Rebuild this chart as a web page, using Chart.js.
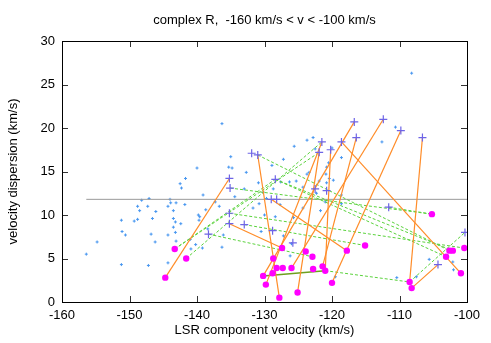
<!DOCTYPE html>
<html>
<head>
<meta charset="utf-8">
<script src="https://cdn.jsdelivr.net/npm/chart.js@4.4.1/dist/chart.umd.min.js"></script>
<style>
  body { margin: 0; background: #fff; }
  #wrap { width: 491px; height: 343px; }
</style>
</head>
<body>
<div id="wrap"><canvas id="chart" width="491" height="343"></canvas></div>
<script>
// ======= data =======
const chartTitle = 'complex R,  -160 km/s < v < -100 km/s';

// field points (small blue crosses)
const dotV = [-156.4,-154.8,-151.2,-151.1,-150.6,-151.2,-149.3,-148.8,-148.8,-148.5,-148.2,-147.3,-147.1,-146.6,-146.1,-146.8,-146.2,-147.2,
  -144.3,-144.0,-143.9,-143.5,-143.1,-143.5,-143.2,-143.5,-143.2,-144.3,-143.1,-144.3,-142.4,-141.8,-142.5,-142.3,-141.7,-140.0,
  -139.8,-139.7,-141.0,-140.2,-140.9,-139.1,-138.7,-139.6,-138.4,-139.2,-137.3,-136.7,-136.1,-136.3,-134.4,-135.0,-135.3,-134.8,
  -132.7,-133.0,-131.7,-130.9,-130.8,-130.2,-130.0,-130.5,-129.7,-128.9,-136.3,-128.7,-127.6,-126.3,-125.6,-127.2,-127.7,
  -123.7,-122.8,-122.5,-120.0,-118.6,-120.5,-123.4,-123.7,-120.8,-120.9,-125.3,-120.4,-112.6,-124.3,-121.9,-119.8,-122.3,-118.6,
  -121.0,-108.2,-110.6,-121.7,-124.3,-125.7,-126.0,-119.5,-110.4,-107.5,-105.6,-102.1,-102.0,-120.8,-118.6,-128.4,-127.2,-126.2];
const dotD = [5.5,6.9,9.4,8.1,7.7,4.3,9.3,9.5,11.0,10.5,11.7,11.0,11.9,9.6,10.4,7.8,6.9,4.2,
  11.0,11.8,11.4,10.5,11.4,9.6,9.2,8.6,8.0,7.7,7.0,4.5,9.0,11.2,13.6,13.1,14.2,15.4,
  10.0,9.4,7.2,6.6,6.1,12.3,10.6,9.8,8.4,6.2,11.5,11.0,7.7,6.3,12.1,16.7,15.5,15.4,
  14.9,13.0,10.8,13.7,11.3,12.6,10.0,8.1,11.9,15.7,20.5,13.0,13.8,13.8,17.9,16.4,11.2,
  18.6,18.9,17.6,17.7,16.6,16.0,14.9,14.7,15.5,14.7,13.9,14.2,18.4,13.2,13.9,14.0,12.5,12.3,
  11.5,26.3,20.1,10.5,10.8,9.7,6.7,2.9,2.8,2.9,4.9,4.6,3.7,13.7,11.3,9.8,7.6,5.3];

// clump positions (purple plus)
const plusV = [-131.9,-131.0,-135.2,-135.1,-128.4,-129.0,-128.2,-135.2,-135.2,-133.0,-128.8,-138.3,-116.7,-112.4,
  -121.5,-118.6,-116.4,-121.9,-120.2,-109.8,-106.6,-111.6,-100.3,-104.3,-125.8,-120.8,-122.5];
const plusD = [17.1,16.9,14.2,13.1,14.1,11.8,11.8,10.2,9.0,8.9,8.2,7.8,20.7,21.0,
  18.4,18.4,18.9,17.2,17.5,19.7,18.9,10.9,8.0,4.3,6.8,12.8,13.0];

// fitted components (magenta dots)
const dotsV = [-144.7,-143.3,-141.6,-127.4,-128.7,-128.2,-127.3,-126.0,-128.8,-130.2,-129.8,-127.8,-115.1,-117.8,
  -123.9,-122.9,-121.4,-122.8,-121.0,-120.0,-125.1,-105.2,-102.6,-102.1,-100.4,-103.1,-100.9,-108.5,-108.2];
const dotsD = [2.8,6.1,5.0,6.2,5.0,3.9,3.9,3.9,3.3,3.0,2.0,0.5,6.5,5.9,
  5.8,5.2,4.1,3.8,3.6,2.2,1.1,10.1,5.9,5.9,6.2,5.2,3.3,2.3,1.6];

// links: P = plus number, C = dot number (1-based)
const orangeLinks = [['P3','C1'],['P2','C12'],['P9','C4'],['P6','C14'],['P13','C10'],['P14','C8'],['P17','C17'],
  ['P15','C11'],['P18','C21'],['P19','C19'],['P16','C27'],['P20','C20'],['P21','C28'],['P24','C29']];
const greenLinks = [['C2','P18'],['C3','P15'],['C2','P5'],['P2','C23'],['P4','C22'],['P5','C24'],['P5','C26'],
  ['P8','C25'],['P10','C13'],['P12','C16'],['C19','C28'],['C28','P23'],['P22','C22']];
const oliveLinks = [['C10','C19']];

const meanDisp = 11.8;
const meanFrom = -156.4;
const meanTo = -100;

// ======= helpers =======
function pt(ref) {
  const i = parseInt(ref.slice(1), 10) - 1;
  return ref[0] === 'P' ? { x: plusV[i], y: plusD[i] } : { x: dotsV[i], y: dotsD[i] };
}
function segs(links, color, dash, width, order) {
  return links.map(l => ({
    data: [pt(l[0]), pt(l[1])],
    showLine: true,
    borderColor: color,
    borderWidth: width,
    borderDash: dash,
    pointRadius: 0,
    order: order
  }));
}

const datasets = [];
datasets.push({
  data: dotV.map((v, i) => ({ x: v, y: dotD[i] })),
  pointStyle: 'cross', pointRadius: 1.5, borderColor: 'rgb(70,150,240)', borderWidth: 1, order: 9
});
datasets.push({
  data: [{ x: meanFrom, y: meanDisp }, { x: meanTo, y: meanDisp }],
  showLine: true, borderColor: '#999', borderWidth: 1, pointRadius: 0, order: 8
});
segs(greenLinks, 'rgb(90,210,60)', [3, 2], 1, 7).forEach(d => datasets.push(d));
segs(oliveLinks, 'rgb(110,160,30)', [], 1.5, 6).forEach(d => datasets.push(d));
segs(orangeLinks, 'rgb(255,140,40)', [], 1.2, 5).forEach(d => datasets.push(d));
datasets.push({
  data: plusV.map((v, i) => ({ x: v, y: plusD[i] })),
  pointStyle: 'cross', pointRadius: 4, borderColor: 'rgb(110,100,230)', borderWidth: 1.2, order: 2
});
datasets.push({
  data: dotsV.map((v, i) => ({ x: v, y: dotsD[i] })),
  pointStyle: 'circle', pointRadius: 3.2, backgroundColor: '#ff00ff', borderColor: '#ff00ff', borderWidth: 0, order: 1
});

const font = { family: "'Liberation Sans', Arial, sans-serif", size: 13, weight: 'normal' };

// gnuplot-like box with inward ticks, title centred over the plot box
const frame = {
  id: 'frame',
  afterDatasetsDraw(chart) {
    const { ctx, chartArea: a, scales: { x, y } } = chart;
    ctx.save();
    ctx.strokeStyle = '#333';
    ctx.lineWidth = 1;
    ctx.beginPath();
    x.ticks.forEach(t => {
      const px = Math.round(x.getPixelForValue(t.value)) + 0.5;
      ctx.moveTo(px, a.bottom); ctx.lineTo(px, a.bottom - 6);
      ctx.moveTo(px, a.top); ctx.lineTo(px, a.top + 6);
    });
    y.ticks.forEach(t => {
      const py = Math.round(y.getPixelForValue(t.value)) + 0.5;
      ctx.moveTo(a.left, py); ctx.lineTo(a.left + 6, py);
      ctx.moveTo(a.right, py); ctx.lineTo(a.right - 6, py);
    });
    ctx.stroke();
    ctx.strokeStyle = '#000';
    ctx.strokeRect(Math.round(a.left) + 0.5, Math.round(a.top) + 0.5,
      Math.round(a.right - a.left), Math.round(a.bottom - a.top));

    ctx.fillStyle = '#000';
    ctx.font = font.size + 'px ' + font.family;
    ctx.textAlign = 'center';
    ctx.textBaseline = 'middle';
    ctx.fillText(chartTitle, (a.left + a.right) / 2, a.top - 21);
    ctx.restore();
  }
};

new Chart(document.getElementById('chart'), {
  type: 'scatter',
  data: { datasets: datasets },
  plugins: [frame],
  options: {
    responsive: false,
    animation: false,
    layout: { padding: { left: 0, right: 24, top: 41, bottom: 0 } },
    plugins: {
      legend: { display: false },
      tooltip: { enabled: false },
      title: { display: false }
    },
    scales: {
      x: {
        type: 'linear', min: -160, max: -100,
        ticks: { stepSize: 10, color: '#000', font: font, padding: 6 },
        grid: { display: false, drawTicks: false },
        border: { display: false },
        title: { display: true, text: 'LSR component velocity (km/s)', color: '#000', font: font, padding: { top: 0, bottom: 5 } },
        afterFit(s) { s.height = 41; }
      },
      y: {
        type: 'linear', min: 0, max: 30,
        ticks: { stepSize: 5, color: '#000', font: font, padding: 7 },
        grid: { display: false, drawTicks: false },
        border: { display: false },
        title: { display: true, text: 'velocity dispersion (km/s)', color: '#000', font: font, padding: { top: 6, bottom: 0 } },
        afterFit(s) { s.width = 62; }
      }
    }
  }
});
</script>
</body>
</html>
